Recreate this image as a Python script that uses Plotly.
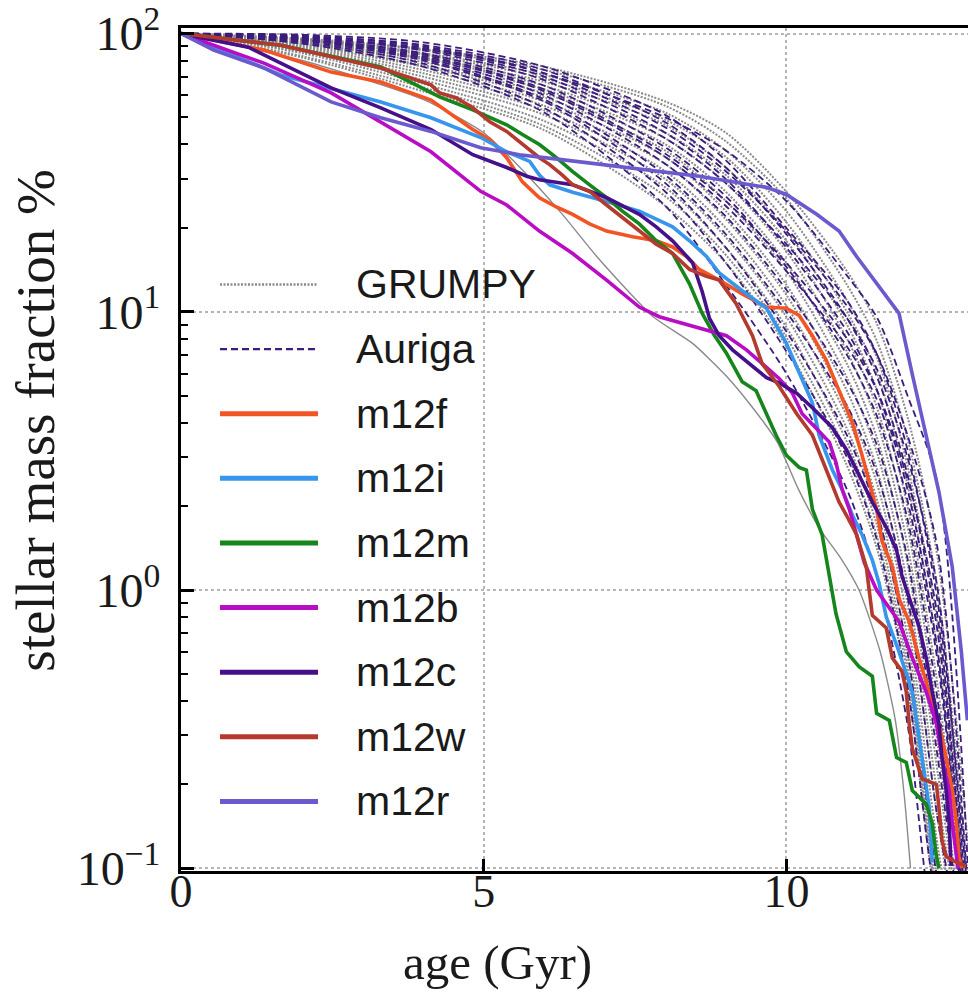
import plotly.graph_objects as go

# ---------------------------------------------------------------------------
# GRUMPY model tracks: cumulative stellar mass fraction (%) vs. age (Gyr)
# ---------------------------------------------------------------------------
track_ages = [0, 2, 4, 6, 8, 9, 10, 11, 11.5, 12, 12.5, 13]

grumpy_tracks = [
    [100, 96, 88, 76, 57, 44, 27, 14, 9.0, 4.2, 1.3, 0.12],
    [100, 95, 87, 74, 55, 41, 25.5, 12.5, 7.8, 3.5, 1.0, 0.09],
    [100, 95, 85, 71, 52, 38, 23, 11, 6.8, 2.8, 0.75, 0.07],
    [100, 94, 84, 69, 49, 36, 21, 10, 6.0, 2.4, 0.6, 0.06],
    [100, 93, 82, 67, 47, 33, 19.5, 9.0, 5.2, 2.0, 0.45, 0.05],
    [100, 92, 81, 65, 44, 31, 18, 8.0, 4.5, 1.7, 0.35, 0.05],
    [100, 92, 79, 63, 42, 29, 16.5, 7.2, 4.0, 1.45, 0.28, 0.04],
    [100, 91, 77, 61, 40, 27, 15, 6.5, 3.5, 1.25, 0.22, 0.04],
    [100, 90, 76, 59, 38, 25, 14, 5.8, 3.1, 1.05, 0.18, 0.04],
    [100, 89, 74, 57, 36, 23, 12.5, 5.2, 2.7, 0.9, 0.15, 0.03],
    [100, 88, 72, 55, 34, 21.5, 11.5, 4.6, 2.4, 0.78, 0.12, 0.03],
    [100, 87, 70, 53, 32, 20, 10.5, 4.2, 2.1, 0.68, 0.10, 0.03],
    [100, 86, 68, 51, 30, 18.5, 9.6, 3.8, 1.9, 0.6, 0.09, 0.03],
    [100, 85, 66, 48.5, 28, 17, 8.8, 3.4, 1.7, 0.54, 0.08, 0.03],
    [100, 83, 64, 46.5, 26, 16, 8.1, 3.1, 1.55, 0.5, 0.075, 0.03],
    [100, 82, 62, 45, 24, 15, 7.5, 2.8, 1.4, 0.45, 0.07, 0.03],
]

# one early-forming GRUMPY track that departs from the main bundle
grumpy_early_age = [0, 2, 4, 5, 5.6, 6.3, 6.9, 7.8, 8.45, 9.0, 9.45, 9.85,
                    10.2, 10.55, 10.9, 11.2, 11.55, 11.8, 11.95, 12.05]
grumpy_early_frac = [100, 80, 58, 44, 33, 22.4, 15.5, 9.6, 7.7, 5.9, 4.5, 3.4,
                     2.3, 1.66, 1.3, 1.0, 0.6, 0.34, 0.18, 0.1]

# ---------------------------------------------------------------------------
# Auriga haloes
# ---------------------------------------------------------------------------
auriga_tracks = [
    [100, 99, 93, 76, 51, 35, 20, 11, 7.0, 3.2, 0.9, 0.08],
    [100, 97, 89, 72, 50, 38, 25, 13.5, 9.5, 5.0, 2.4, 0.1],
    [100, 98, 91, 74, 48, 33, 19, 9.5, 5.8, 2.6, 0.7, 0.06],
    [100, 98, 90, 72, 46, 32, 19.5, 10.5, 7.0, 3.6, 1.4, 0.08],
    [100, 97, 88, 70, 44, 30, 17, 8.5, 5.2, 2.3, 0.6, 0.05],
    [100, 97, 87, 68, 42, 29, 17.5, 9.5, 6.2, 3.0, 1.0, 0.06],
    [100, 96, 85, 65, 39, 26, 14.5, 7.0, 4.2, 1.8, 0.4, 0.05],
    [100, 96, 84, 63, 37, 25, 15, 8.0, 5.2, 2.5, 0.8, 0.05],
    [100, 95, 83, 62, 36, 24, 14, 7.5, 4.8, 2.1, 0.55, 0.05],
    [100, 95, 82, 60, 34, 22, 12, 5.6, 3.3, 1.3, 0.25, 0.04],
    [100, 95, 81, 58, 31, 19, 10, 4.6, 2.6, 0.95, 0.15, 0.04],
    [100, 94, 80, 57, 29, 17, 8.5, 3.6, 1.9, 0.6, 0.09, 0.03],
    [100, 93, 78, 54, 27, 15, 7.2, 3.0, 1.5, 0.45, 0.07, 0.03],
    [100, 92, 76, 52, 24, 12.5, 6.0, 2.3, 1.1, 0.33, 0.05, 0.03],
]

# ---------------------------------------------------------------------------
# FIRE Milky-Way-mass haloes
# ---------------------------------------------------------------------------
m12f_age = [0, 1.37, 2.48, 3.30, 4.13, 4.82, 5.10, 5.38, 5.64, 5.92, 6.20, 6.47,
            6.75, 7.03, 7.46, 7.85, 8.12, 8.35, 8.56, 8.89, 9.27, 9.67, 10.0,
            10.21, 10.43, 10.66, 10.87, 11.09, 11.25, 11.37, 11.49, 11.58,
            11.75, 11.86, 12.03, 12.19, 12.36, 12.52, 12.64, 12.74, 12.81,
            12.85, 12.90]
m12f_frac = [100, 87.2, 72.7, 67.0, 57.7, 45.2, 41.6, 35.8, 29.3, 25.7, 23.8,
             22.4, 20.7, 19.5, 18.6, 18.0, 17.1, 15.8, 14.2, 13.0, 11.6, 10.4,
             10.3, 9.7, 8.2, 6.7, 5.2, 4.0, 3.05, 2.45, 1.95, 1.50, 1.21, 0.93,
             0.77, 0.57, 0.43, 0.33, 0.25, 0.19, 0.145, 0.11, 0.1]

m12i_age = [0, 1.65, 3.30, 4.13, 4.95, 5.38, 5.76, 5.92, 6.09, 6.47, 7.03,
            7.57, 8.12, 8.40, 8.68, 8.89, 9.27, 9.67, 10.0, 10.21, 10.43,
            10.54, 10.76, 10.92, 11.09, 11.25, 11.42, 11.53, 11.65, 11.86,
            12.08, 12.24, 12.36, 12.41]
m12i_frac = [100, 71.0, 56.8, 49.8, 42.3, 37.6, 34.7, 31.0, 28.6, 26.9, 24.9,
             23.0, 20.2, 18.0, 15.8, 13.8, 11.9, 10.3, 7.7, 6.1, 4.7, 3.6,
             2.7, 2.3, 1.86, 1.58, 1.28, 1.06, 0.80, 0.60, 0.43, 0.25, 0.165,
             0.105]

m12m_age = [0, 1.65, 3.30, 4.27, 4.82, 5.38, 5.64, 5.92, 6.20, 6.47, 6.75,
            7.03, 7.29, 7.57, 7.85, 8.12, 8.40, 8.61, 8.81, 9.01, 9.27, 9.50,
            9.67, 9.83, 10.0, 10.21, 10.33, 10.43, 10.59, 10.71, 10.82, 10.99,
            11.20, 11.42, 11.49, 11.70, 11.82, 11.98, 12.08, 12.31, 12.41,
            12.48, 12.52]
m12m_frac = [100, 90.8, 75.8, 59.2, 53.2, 47.0, 43.4, 39.9, 35.8, 31.9, 28.6,
             25.7, 23.0, 20.7, 18.0, 16.2, 12.6, 9.87, 8.23, 7.1, 5.6, 5.2,
             4.3, 3.6, 3.05, 2.76, 2.7, 1.95, 1.58, 1.12, 0.82, 0.60, 0.53,
             0.49, 0.36, 0.34, 0.25, 0.24, 0.19, 0.17, 0.145, 0.11, 0.1]

m12b_age = [0, 0.54, 1.37, 2.48, 3.30, 4.13, 4.95, 5.38, 5.92, 6.47, 7.03,
            7.57, 7.90, 8.45, 9.01, 9.34, 9.67, 9.88, 10.1, 10.26, 10.5,
            10.71, 10.82, 10.92, 11.04, 11.16, 11.29, 11.49, 11.86, 12.08,
            12.31, 12.48, 12.57, 12.69, 12.74, 12.81, 12.83]
m12b_frac = [100, 90.8, 78.3, 61.2, 48.2, 37.6, 27.1, 24.2, 19.5, 16.2, 13.0,
             10.4, 9.6, 8.9, 8.2, 7.3, 6.3, 5.76, 5.1, 4.3, 3.8, 3.4, 2.87,
             2.3, 1.95, 1.58, 1.25, 1.00, 0.77, 0.57, 0.43, 0.33, 0.25, 0.19,
             0.145, 0.11, 0.1]

m12c_age = [0, 1.11, 2.48, 3.30, 4.13, 4.82, 5.38, 5.71, 5.92, 6.47, 7.03,
            7.57, 7.85, 8.12, 8.45, 8.61, 8.73, 8.89, 9.11, 9.39, 9.67, 9.88,
            10.17, 10.43, 10.76, 10.99, 11.20, 11.42, 11.65, 11.82, 11.91,
            12.03, 12.19, 12.31, 12.41, 12.52, 12.57, 12.64, 12.69, 12.72]
m12c_frac = [100, 89.3, 63.8, 54.1, 45.2, 36.7, 33.0, 30.7, 29.8, 28.6, 25.7,
             22.4, 20.2, 18.0, 15.0, 11.8, 9.46, 8.2, 7.3, 6.5, 5.8, 5.55,
             5.1, 4.52, 3.83, 3.2, 2.6, 2.07, 1.68, 1.39, 1.12, 0.93, 0.74,
             0.57, 0.43, 0.33, 0.25, 0.19, 0.145, 0.102]

m12w_age = [0, 1.65, 3.30, 4.13, 4.27, 4.55, 4.82, 5.10, 5.38, 5.64, 5.92,
            6.09, 6.30, 6.47, 6.75, 7.03, 7.29, 7.57, 7.85, 8.12, 8.40, 8.68,
            8.89, 9.17, 9.34, 9.44, 9.60, 9.88, 10.17, 10.43, 10.66, 10.87,
            10.99, 11.16, 11.32, 11.37, 11.42, 11.65, 11.75, 11.91, 11.98,
            12.03, 12.08, 12.24, 12.48, 12.52, 12.57, 12.64, 12.81, 12.97]
m12w_frac = [100, 90.8, 75.2, 65.4, 61.2, 58.7, 54.1, 48.2, 44.5, 39.9, 35.8,
             33.8, 31.0, 28.6, 27.1, 24.2, 21.8, 19.5, 17.5, 16.2, 14.2, 13.4,
             13.0, 10.7, 9.1, 8.2, 6.5, 5.4, 4.3, 3.6, 2.7, 2.07, 1.86, 1.58,
             1.21, 1.00, 0.81, 0.73, 0.57, 0.51, 0.43, 0.33, 0.27, 0.21, 0.20,
             0.165, 0.126, 0.11, 0.105, 0.102]

m12r_age = [0, 0.54, 1.37, 2.48, 3.30, 4.13, 4.95, 5.59, 6.25, 7.24, 8.56,
            9.67, 10.0, 10.5, 10.87, 11.16, 11.49, 11.86, 12.08, 12.31, 12.52,
            12.74, 12.89, 12.99]
m12r_frac = [100, 87.2, 75.2, 56.8, 49.8, 44.5, 38.9, 36.7, 35.3, 33.3, 30.7,
             28.0, 26.4, 22.4, 19.5, 15.8, 12.6, 9.87, 5.96, 3.6, 2.25, 1.21,
             0.60, 0.34]

fire_names = ["m12f", "m12i", "m12m", "m12b", "m12c", "m12w", "m12r"]
fire_ages = [m12f_age, m12i_age, m12m_age, m12b_age, m12c_age, m12w_age, m12r_age]
fire_fracs = [m12f_frac, m12i_frac, m12m_frac, m12b_frac, m12c_frac, m12w_frac, m12r_frac]
fire_colors = ["#f25424", "#3796ec", "#15851c", "#b80dc4", "#46108a", "#b33a2c", "#6a5acd"]

legend_labels = ["GRUMPY", "Auriga"] + fire_names

GRUMPY_COLOR = "#8a8a8a"
AURIGA_COLOR = "#3c1c7c"

fig = go.Figure()

# GRUMPY (dotted grey)
for frac in grumpy_tracks:
    fig.add_trace(go.Scatter(
        x=track_ages, y=frac, mode="lines", showlegend=False, hoverinfo="skip",
        line=dict(color=GRUMPY_COLOR, width=2, dash="2px,1.5px", shape="spline", smoothing=0.8),
    ))
fig.add_trace(go.Scatter(
    x=grumpy_early_age, y=grumpy_early_frac, mode="lines", showlegend=False, hoverinfo="skip",
    line=dict(color=GRUMPY_COLOR, width=1.4, shape="spline", smoothing=0.6),
))

# Auriga (dashed dark purple)
for frac in auriga_tracks:
    fig.add_trace(go.Scatter(
        x=track_ages, y=frac, mode="lines", showlegend=False, hoverinfo="skip",
        line=dict(color=AURIGA_COLOR, width=1.8, dash="7px,4px", shape="spline", smoothing=0.8),
    ))

# FIRE haloes (thick solid)
for name, ages, frac, col in zip(fire_names, fire_ages, fire_fracs, fire_colors):
    fig.add_trace(go.Scatter(
        x=ages, y=frac, mode="lines", name=name, showlegend=False,
        line=dict(color=col, width=3.6),
    ))

# ---------------------------------------------------------------------------
# layout geometry (pixels)
# ---------------------------------------------------------------------------
W, H = 968, 998
L, R, T, B = 181, 0, 23, 127
plot_w = W - L - R
plot_h = H - T - B


def paper_x(px):
    return (px - L) / plot_w


def paper_y(py):
    return (H - B - py) / plot_h


# hand-drawn legend: sample line + label per row
legend_styles = (
    [dict(color=GRUMPY_COLOR, width=2.4, dash="2px,1.5px"),
     dict(color=AURIGA_COLOR, width=2.2, dash="7px,4px")]
    + [dict(color=c, width=5) for c in fire_colors]
)
row_top, row_step = 281, 65
shapes = []
annotations = []
for i, (label, style) in enumerate(zip(legend_labels, legend_styles)):
    py = row_top + i * row_step
    shapes.append(dict(
        type="line", xref="paper", yref="paper",
        x0=paper_x(220), x1=paper_x(318), y0=paper_y(py), y1=paper_y(py),
        line=style,
    ))
    annotations.append(dict(
        text=label, xref="paper", yref="paper", x=paper_x(354), y=paper_y(py),
        xanchor="left", yanchor="middle", showarrow=False,
        font=dict(family="Liberation Sans", size=41, color="#1a1a1a"),
    ))

# axis titles
serif = "Liberation Serif"
annotations.append(dict(
    text="age (Gyr)", xref="paper", yref="paper", x=paper_x(497), y=paper_y(963),
    xanchor="center", yanchor="middle", showarrow=False,
    font=dict(family=serif, size=49, color="#1a1a1a"),
))
annotations.append(dict(
    text="stellar mass fraction %", xref="paper", yref="paper",
    x=paper_x(36), y=paper_y(418), textangle=-90,
    xanchor="center", yanchor="middle", showarrow=False,
    font=dict(family=serif, size=55, color="#1a1a1a"),
))

minor_vals = [m * d for d in (0.1, 1, 10) for m in range(2, 10)]

fig.update_layout(
    width=W, height=H,
    margin=dict(l=L, r=R, t=T, b=B, pad=0),
    paper_bgcolor="white", plot_bgcolor="white",
    showlegend=False,
    shapes=shapes,
    annotations=annotations,
    xaxis=dict(
        range=[0, 13], tickmode="array", tickvals=[0, 5, 10], ticktext=["0", "5", "10"],
        ticks="inside", ticklen=12, tickwidth=3, tickcolor="black",
        showline=True, linecolor="black", linewidth=3, mirror=True,
        showgrid=True, gridcolor="#b5b5b5", gridwidth=1.5, griddash="dot",
        zeroline=False, ticklabeloverflow="allow", ticklabelstandoff=-22,
        tickfont=dict(family=serif, size=46, color="#1a1a1a"),
    ),
    yaxis=dict(
        type="log", range=[-1.01, 2.02],
        tickmode="array", tickvals=[0.1, 1, 10, 100],
        ticktext=["10<sup>−1</sup>", "10<sup>0</sup>", "10<sup>1</sup>", "10<sup>2</sup>"],
        ticks="inside", ticklen=13, tickwidth=3, tickcolor="black",
        minor=dict(tickmode="array", tickvals=minor_vals, ticks="inside",
                   ticklen=7, tickwidth=2, tickcolor="black", showgrid=False),
        showline=True, linecolor="black", linewidth=3, mirror=False,
        showgrid=True, gridcolor="#b5b5b5", gridwidth=1.5, griddash="dot",
        zeroline=False, ticklabelstandoff=8, ticklabeloverflow="allow",
        tickfont=dict(family=serif, size=48, color="#1a1a1a"),
    ),
)

fig.write_html("out.html")
